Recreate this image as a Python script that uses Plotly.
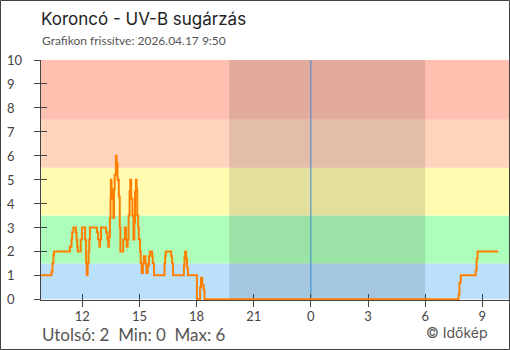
import plotly.graph_objects as go

# ---- data ----
day1 = "2026-04-16"
day2 = "2026-04-17"
times_day1 = ["09:50","10:23","10:26","10:29","10:31","11:21","11:26","11:28","11:32","11:40",
              "11:42","11:44","11:46","11:55","11:59","12:09","12:12","12:14","12:17","12:20",
              "12:22","12:24","12:46","12:50","12:54","12:56","12:59","13:15","13:19","13:22",
              "13:24","13:27","13:29","13:30","13:32","13:33","13:38","13:40","13:42","13:46",
              "13:48","13:51","13:55","13:58","14:00","14:09","14:14","14:18","14:20","14:23",
              "14:26","14:29","14:31","14:34","14:38","14:41","14:44","14:46","14:49","14:51",
              "14:53","14:56","14:58","15:02","15:04","15:07","15:11","15:14","15:19","15:22",
              "15:26","15:30","15:33","15:40","15:42","15:46","16:19","16:21","16:23","16:40",
              "16:43","16:46","17:20","17:22","17:24","17:27","17:30","17:33","18:01","18:11",
              "18:14","18:18","18:22","18:25"]
values_day1 = [1,1.15,1.5,1.85,2,2.2,2.5,2.8,3,2.8,
               2.5,2.2,2,2.5,3,2.5,1.5,1,1.5,2,
               2.5,3,2.8,2.5,2.2,2.5,3,2.8,2.5,2.2,
               2.6,3.4,4.2,5,4.2,4.6,3.4,4.6,5.2,6,
               5.7,5,4.3,3,2,2.5,3,2.5,2.2,2.5,
               3.5,4.5,5,4.2,3.5,2.5,3.2,4.5,5,4.6,
               3.5,3,2.5,2,1.5,1.1,1.5,1.8,1.5,1.1,
               1.4,1.8,2,1.8,1.5,1,1.5,1.8,2,1.8,
               1.5,1,1.4,1.8,2,1.7,1.3,1,0,0.5,
               0.9,0.6,0.4,0]
times_day2 = ["07:45","07:48","07:52","08:39","08:42","08:45","09:50"]
values_day2 = [0.2,0.7,1,1.2,1.7,2,2]

band_edges = [0, 1.5, 3.5, 5.5, 7.5, 10]
band_colors = ["#bae0fc", "#adfebb", "#fffbb0", "#fed5bc", "#ffc0b0"]
y_ticks = list(range(0, 11))
night_start = f"{day1} 19:43"
night_end = f"{day2} 06:00"
midnight = f"{day2} 00:00"
x_start = f"{day1} 09:50"
x_end = f"{day2} 10:24"

title = "Koroncó - UV-B sugárzás"
subtitle = "Grafikon frissítve: 2026.04.17 9:50"
stats = "Utolsó: 2\u00a0\u00a0Min: 0\u00a0\u00a0Max: 6"
credit = "©\u00a0Időkép"

x = [f"{day1} {t}" for t in times_day1] + [f"{day2} {t}" for t in times_day2]
y = values_day1 + values_day2

W, H = 510, 350
L, R, T, B = 41, 1, 60, 50
pw, ph = W - L - R, H - T - B

def px_x(p):
    return (p - L) / pw

def px_y(p):
    return (H - B - p) / ph

FONT = "Lato"
FONT2 = "Inter"
fig = go.Figure()
fig.add_trace(go.Scatter(x=x, y=y, mode="lines", line=dict(color="#ff8000", width=2, shape="hv"),
                         hoverinfo="skip", showlegend=False))
# invisible trace for crossing ticks
fig.add_trace(go.Scatter(x=[x_start, x_end], y=[0, 10], xaxis="x2", yaxis="y2", mode="markers",
                         marker=dict(opacity=0), hoverinfo="skip", showlegend=False))

shapes = []
for i, c in enumerate(band_colors):
    shapes.append(dict(type="rect", xref="paper", yref="y", x0=0, x1=1,
                       y0=band_edges[i], y1=band_edges[i + 1], fillcolor=c, line_width=0, layer="below"))
shapes.append(dict(type="rect", xref="x", yref="paper", x0=night_start, x1=night_end, y0=0, y1=1,
                   fillcolor="rgba(0,0,0,0.11)", line_width=0, layer="below"))
shapes.append(dict(type="line", xref="x", yref="paper", x0=midnight, x1=midnight, y0=0, y1=1,
                   line=dict(color="#3b8ad2", width=1), layer="below"))
shapes.append(dict(type="rect", xref="paper", yref="paper",
                   x0=px_x(0.5), x1=px_x(509.5), y0=px_y(349.5), y1=px_y(0.5),
                   line=dict(color="#444444", width=1), fillcolor="rgba(0,0,0,0)", layer="above"))

ann = []
ann.append(dict(text=title, xref="paper", yref="paper", x=px_x(39), y=px_y(18.5), xanchor="left",
                yanchor="middle", showarrow=False, font=dict(family=FONT2, size=17, color="#222222")))
ann.append(dict(text=subtitle, xref="paper", yref="paper", x=px_x(39.5), y=px_y(40), xanchor="left",
                yanchor="middle", showarrow=False, font=dict(family=FONT, size=12, color="#555555")))
ann.append(dict(text=stats, xref="paper", yref="paper", x=px_x(39.5), y=px_y(334), xanchor="left",
                yanchor="middle", showarrow=False, font=dict(family=FONT, size=17, color="#555555")))
ann.append(dict(text=credit, xref="paper", yref="paper", x=px_x(424), y=px_y(332), xanchor="left",
                yanchor="middle", showarrow=False, font=dict(family=FONT2, size=14, color="#555555")))
for v in y_ticks:
    ann.append(dict(text=str(v), xref="paper", yref="y", x=px_x(5), y=v, xanchor="left",
                    yanchor="middle", showarrow=False, font=dict(family=FONT, size=13, color="#444444")))

axis_common = dict(showgrid=False, zeroline=False, tickcolor="#444444", tickwidth=1, ticklen=6,
                   layer="below traces")
fig.update_layout(
    width=W, height=H, margin=dict(l=L, r=R, t=T, b=B),
    paper_bgcolor="white", plot_bgcolor="white",
    shapes=shapes, annotations=ann,
    xaxis=dict(type="date", range=[x_start, x_end], tickformat="%-H", dtick=3 * 3600 * 1000,
               tick0=f"{day1} 00:00", ticks="outside", showline=True, linecolor="#444444", linewidth=1,
               ticklabelstandoff=-2,
               tickfont=dict(family=FONT, size=13, color="#444444"), **axis_common),
    yaxis=dict(range=[-0.03, 10], tickvals=y_ticks, ticks="outside", showticklabels=False,
               showline=True, linecolor="#444444", linewidth=1, **axis_common),
    xaxis2=dict(type="date", overlaying="x", range=[x_start, x_end], dtick=3 * 3600 * 1000,
                tick0=f"{day1} 00:00", ticks="inside", showticklabels=False, showline=False,
                anchor="y2", **axis_common),
    yaxis2=dict(overlaying="y", range=[-0.03, 10], tickvals=y_ticks, ticks="inside", showticklabels=False,
                showline=False, anchor="x2", **axis_common),
)
fig.write_html("out.html")
